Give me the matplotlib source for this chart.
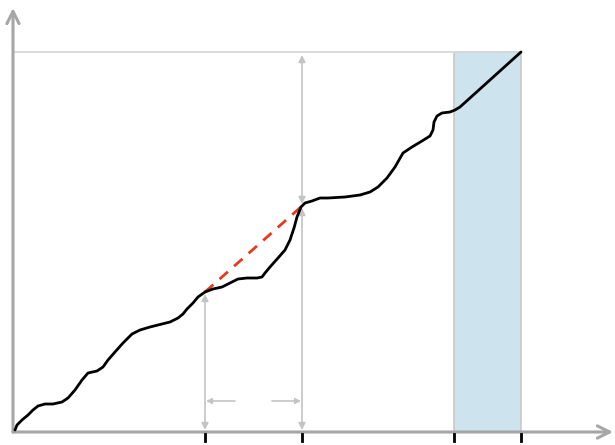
import numpy as np
import matplotlib
matplotlib.use('Agg')
import matplotlib.pyplot as plt

# curve (x right from the y axis, y up from the x axis, in px)
curve_x = [2, 4, 9, 15, 20, 25, 32, 40, 49, 55, 62, 69, 75, 84, 90, 95, 102,
           110, 119, 127, 137, 149, 157, 165, 170, 174, 180, 185, 192,
           200, 209, 217, 225, 234, 244, 249, 252, 257, 265, 272, 277, 281,
           284, 288, 292, 299, 307, 315, 332, 347, 357, 365, 374, 382, 390,
           399, 409, 417, 420, 421, 424, 429, 437, 442, 447, 508]
curve_y = [2, 7, 12, 17, 22, 26, 28, 28, 30, 34, 42, 52, 59, 61, 65, 72, 80,
           89, 98, 102, 105, 108, 110, 114, 118, 123, 129, 135, 140,
           143, 145, 149, 153, 154, 154, 155, 159, 165, 174, 182, 192, 204,
           215, 225, 229, 231, 234, 234, 235, 237, 240, 245, 254, 265, 279,
           285, 291, 296, 302, 310, 316, 319, 320, 322, 325, 380]

x_a, x_b = 192, 289          # marked positions
band = (441, 508)            # shaded region
y_top = 380
tick_x = [x_a, x_b, band[0], band[1]]

fig = plt.figure(figsize=(6.15, 4.45), dpi=100)
ax = fig.add_axes([0, 0, 1, 1])
ax.set_xlim(-13, 602)
ax.set_ylim(-13, 432)
ax.axis('off')

axis_col = '#a6a6a6'
arrow_col = '#c4c4c4'

ax.axvspan(band[0], band[1], ymin=(0 + 13) / 445, ymax=(y_top + 13) / 445,
           facecolor='#cde4ef', edgecolor='#c8c8c8', lw=1.2, zorder=1)
ax.plot([0, band[1]], [y_top, y_top], color='#d8d8d8', lw=1.3, zorder=1)

# axes with arrowheads
ax.annotate('', xy=(600, 0), xytext=(0, 0),
            arrowprops=dict(arrowstyle='->', color=axis_col, lw=2.2,
                            mutation_scale=22, shrinkA=0, shrinkB=0), zorder=2)
ax.annotate('', xy=(0, 424), xytext=(0, 0),
            arrowprops=dict(arrowstyle='->', color=axis_col, lw=2.2,
                            mutation_scale=22, shrinkA=0, shrinkB=0), zorder=2)

for tx in tick_x:
    ax.plot([tx, tx], [-2, -9], color='black', lw=2, zorder=3)

y_a = np.interp(x_a, curve_x, curve_y)
y_b = np.interp(x_b, curve_x, curve_y)

def darrow(p0, p1):
    ax.annotate('', xy=p1, xytext=p0,
                arrowprops=dict(arrowstyle='<|-|>', color=arrow_col, lw=1.2,
                                mutation_scale=10, shrinkA=0, shrinkB=0), zorder=2)

def sarrow(p0, p1):
    ax.annotate('', xy=p1, xytext=p0,
                arrowprops=dict(arrowstyle='-|>', color=arrow_col, lw=1.2,
                                mutation_scale=8, shrinkA=0, shrinkB=0), zorder=2)

darrow((x_a, 2), (x_a, y_a - 2))
darrow((x_b, 2), (x_b, y_b - 2))
darrow((x_b, y_b + 2), (x_b, y_top - 3))
sarrow((x_a + 30, 31), (x_a + 1, 31))
sarrow((x_b - 30, 31), (x_b - 1, 31))

ax.plot([x_a, x_b], [y_a, y_b], color='#e8391f', lw=2, ls=(0, (4, 3)), zorder=4)
ax.plot(curve_x, curve_y, color='black', lw=2, zorder=5,
        solid_capstyle='round', solid_joinstyle='round')

plt.savefig('out.png', dpi=100)
